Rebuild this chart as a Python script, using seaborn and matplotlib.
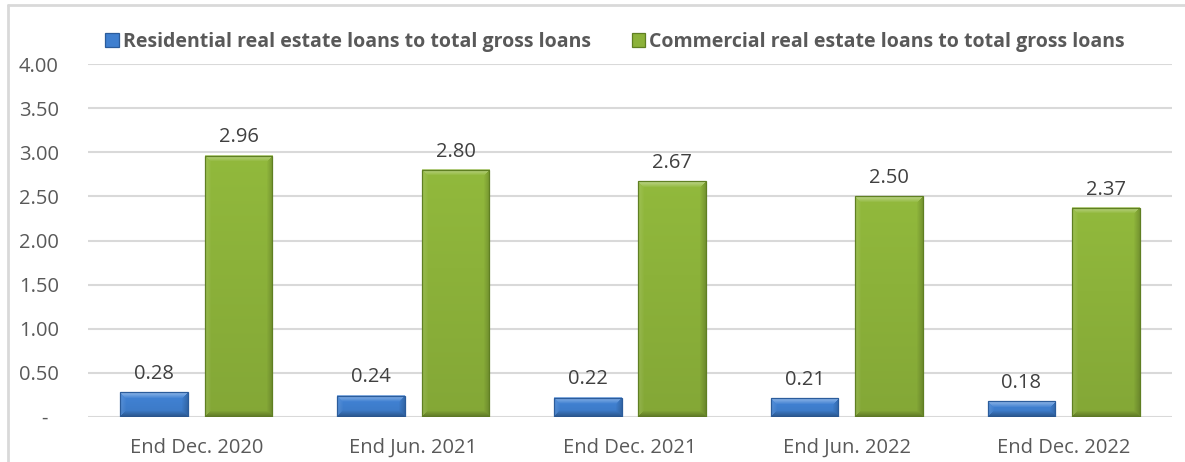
import numpy as np
import pandas as pd
import matplotlib
matplotlib.use("Agg")
import matplotlib.pyplot as plt
from matplotlib.patches import Rectangle
from matplotlib.lines import Line2D
from matplotlib.colors import to_rgb
import seaborn as sns

# ---- data -------------------------------------------------------------
periods = ["End Dec. 2020", "End Jun. 2021", "End Dec. 2021",
           "End Jun. 2022", "End Dec. 2022"]
residential = [0.28, 0.24, 0.22, 0.21, 0.18]
commercial = [2.96, 2.80, 2.67, 2.50, 2.37]
series_names = ["Residential real estate loans to total gross loans",
                "Commercial real estate loans to total gross loans"]
y_ticks = [0.0, 0.5, 1.0, 1.5, 2.0, 2.5, 3.0, 3.5, 4.0]
y_tick_labels = ["-  ", "0.50", "1.00", "1.50", "2.00", "2.50", "3.00", "3.50", "4.00"]

df = pd.DataFrame({
    "period": periods * 2,
    "series": [series_names[0]] * len(periods) + [series_names[1]] * len(periods),
    "value": residential + commercial,
})

# ---- style ------------------------------------------------------------
sns.set_theme(style="white")
plt.rcParams["font.family"] = ["Open Sans", "DejaVu Sans"]

BLUE = "#3f7fcf"
BLUE_EDGE = "#2b5c9b"
GREEN = "#8cb23a"
GREEN_EDGE = "#5f7f22"
GRID = "#d9d9d9"
TICK_TXT = "#595959"
LABEL_TXT = "#404040"
FS = 14.5

W, H = 1185, 462
fig = plt.figure(figsize=(W / 100, H / 100), dpi=100)
fig.patch.set_facecolor("white")
ax = fig.add_axes([88 / W, 1 - 417 / H, (1172 - 88) / W, (417 - 64) / H])

sns.barplot(data=df, x="period", y="value", hue="series",
            palette=[BLUE, GREEN], width=0.78, gap=0.2, ax=ax,
            legend=False, saturation=1, zorder=3)

ax.set_ylim(0, 4)
ax.set_xlim(-0.5, len(periods) - 0.5)
ax.set_yticks(y_ticks)
ax.set_yticklabels(y_tick_labels)
ax.set_xlabel("")
ax.set_ylabel("")
ax.yaxis.grid(True, color=GRID, linewidth=1.5, zorder=0)
ax.xaxis.grid(False)
for s in ax.spines.values():
    s.set_visible(False)
ax.tick_params(axis="y", length=0, pad=21, labelsize=FS, labelcolor=TICK_TXT)
ax.tick_params(axis="x", length=0, pad=15, labelsize=FS, labelcolor=TICK_TXT)


def bevel_image(color, wpx, hpx, bevel=6):
    """Shaded RGB array giving a bar a soft bevelled look."""
    base = np.array(to_rgb(color))
    wpx, hpx = max(int(round(wpx)), 2), max(int(round(hpx)), 2)
    b = max(1.0, min(bevel, hpx / 2.0, wpx / 2.0))
    ii, jj = np.mgrid[0:hpx, 0:wpx]
    dt, db = ii.astype(float), (hpx - 1 - ii).astype(float)
    dl, dr = jj.astype(float), (wpx - 1 - jj).astype(float)
    d = np.stack([dt, db, dl, dr])
    which = np.argmin(d, axis=0)
    dmin = np.min(d, axis=0)
    strength = np.clip(1 - dmin / b, 0, 1)
    # body: gentle vertical gradient, lighter towards the top
    t = ii / max(hpx - 1, 1)
    img = base[None, None, :] * (1.04 - 0.10 * t[..., None])
    img = np.clip(img, 0, 1)
    amount = np.zeros_like(strength)
    amount[which == 0] = 0.40    # top: highlight
    amount[which == 2] = 0.12    # left: slight highlight
    amount[which == 3] = -0.18   # right: shade
    amount[which == 1] = -0.28   # bottom: shade
    a = (amount * strength)[..., None]
    light = img + (1 - img) * np.clip(a, 0, None)
    out = light * (1 + np.clip(a, None, 0))
    return np.clip(out, 0, 1)


fig.canvas.draw()
edges = [BLUE_EDGE, GREEN_EDGE]
colors = [BLUE, GREEN]
for k, cont in enumerate(ax.containers):
    for p in cont.patches:
        x0, y0 = p.get_x(), p.get_y()
        w, h = p.get_width(), p.get_height()
        (px0, py0), (px1, py1) = ax.transData.transform([(x0, y0), (x0 + w, y0 + h)])
        img = bevel_image(colors[k], px1 - px0, py1 - py0)
        ax.imshow(img, extent=[x0, x0 + w, y0, y0 + h], aspect="auto",
                  interpolation="bilinear", zorder=3.5)
        p.set_facecolor("none")
        p.set_edgecolor(edges[k])
        p.set_linewidth(0.9)
        p.set_zorder(4)

values = [residential, commercial]
for k, cont in enumerate(ax.containers):
    ax.bar_label(cont, labels=[f"{v:.2f}" for v in values[k]], padding=6,
                 fontsize=FS, color=LABEL_TXT)

ax.set_ylim(0, 4)
ax.set_xlim(-0.5, len(periods) - 0.5)

# legend with small bevelled squares
handles = [Rectangle((0, 0), 1, 1, facecolor=colors[k], edgecolor=edges[k],
                     linewidth=0.9) for k in range(2)]
leg = fig.legend(handles, series_names, loc="center", ncol=2,
                 bbox_to_anchor=(0.519, 1 - 42 / H), frameon=False,
                 handlelength=0.7, handleheight=0.7, handletextpad=0.2,
                 columnspacing=2.1,
                 prop={"weight": "bold", "size": 14.0})
for t in leg.get_texts():
    t.set_color(TICK_TXT)

# thin chart-area frame (left and top edges)
fig.add_artist(Line2D([7.5 / W, 7.5 / W], [0, 1 - 5 / H], color=GRID, lw=2,
                      transform=fig.transFigure))
fig.add_artist(Line2D([7.5 / W, 1], [1 - 5 / H, 1 - 5 / H], color=GRID, lw=2,
                      transform=fig.transFigure))

fig.savefig("out.png", dpi=100, facecolor="white")
